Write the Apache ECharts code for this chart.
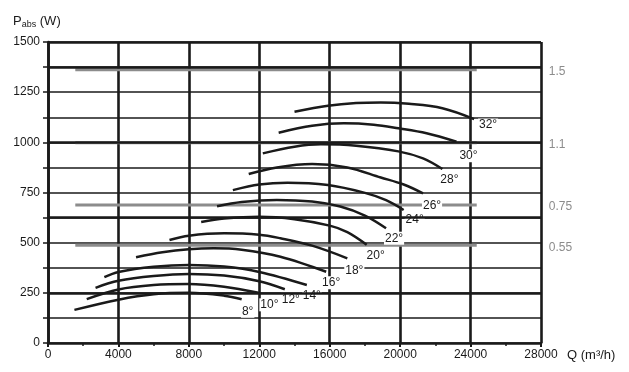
<!DOCTYPE html>
<html>
<head>
<meta charset="utf-8">
<script src="https://cdn.jsdelivr.net/npm/echarts@6/dist/echarts.min.js"></script>
<style>
html,body{margin:0;padding:0;background:#fff;}
#chart{width:629px;height:372px;}
</style>
</head>
<body>
<div id="chart"></div>
<script>
// ---- data ----
const angleLabels = ['8°','10°','12°','14°','16°','18°','20°','22°','24°','26°','28°','30°','32°'];
const c8  = [[1500,165],[4000,216],[6000,243],[8000,250],[10000,236],[11000,218]];
const c10 = [[2200,219],[4000,267],[6000,289],[8000,294],[10000,280],[11950,250]];
const c12 = [[2700,275],[4000,310],[6000,334],[8000,344],[10000,336],[12000,308],[13450,268]];
const c14 = [[3200,328],[4000,354],[6000,380],[8000,389],[10000,381],[12000,354],[14700,289]];
const c16 = [[5000,427],[6500,452],[8000,467],[9400,472],[11000,465],[13200,430],[15800,355]];
const c18 = [[6900,513],[8000,535],[10000,547],[12000,540],[13200,522],[15000,485],[17000,422]];
const c20 = [[8700,603],[10000,620],[12000,629],[14000,617],[16000,585],[17000,553],[18100,490]];
const c22 = [[9600,681],[11000,703],[13000,713],[15000,705],[16600,680],[18000,635],[19200,572]];
const c24 = [[10500,762],[12000,790],[13600,799],[15900,787],[18000,748],[19200,712],[20200,663]];
const c26 = [[11400,842],[13000,875],[15000,892],[17000,875],[18900,825],[20200,790],[21300,746]];
const c28 = [[12200,945],[14000,978],[15500,990],[17500,983],[19900,955],[21300,920],[22400,867]];
const c30 = [[13100,1048],[15000,1083],[16800,1095],[18500,1088],[19900,1070],[21500,1045],[23200,1003]];
const c32 = [[14000,1152],[15900,1182],[17500,1196],[18900,1199],[20500,1192],[22400,1170],[24200,1116]];
const curves = [c8,c10,c12,c14,c16,c18,c20,c22,c24,c26,c28,c30,c32];

const motorLabels = ['1.5','1.1','0.75','0.55'];
const motorP = [1362, 998, 688, 487];
const motorQ = [1550, 24350];

const xTicks = [0,4000,8000,12000,16000,20000,24000,28000];
const yTicks = [0,250,500,750,1000,1250,1500];
const thickGridP = [250, 625, 1000, 1375, 1500];

// ---- styles (label offsets in px relative to curve ends) ----
const labelOffsets = [[6,12],[11,12],[6,10],[5,11],[5,11],[7,12],[9,11],[8,10],[11,10],[9,12],[7,11],[12,14],[14,6]];

const FONT = "'Liberation Sans', Arial, sans-serif";
const chart = echarts.init(document.getElementById('chart'), null, {renderer:'canvas'});

const series = [];
series.push({
  type:'line', data:[], silent:true, z:1,
  markLine:{
    silent:true, symbol:'none', label:{show:false}, animation:false,
    lineStyle:{color:'#1a1a1a', width:2.6, type:'solid'},
    data: thickGridP.map(v => ({yAxis:v}))
  }
});
motorP.forEach((p,i) => {
  series.push({
    type:'line', z:2, silent:true, showSymbol:false, symbol:'none',
    data: motorQ.map(q => [q,p]),
    lineStyle:{color:'#8c8c8c', width:3},
    endLabel:{show:true, formatter: motorLabels[i], color:'#8c8c8c', fontSize:12,
      fontFamily:FONT, distance:5, offset:[67,2]}
  });
});
curves.forEach((c,i) => {
  series.push({
    type:'line', z:4, silent:true, showSymbol:false, symbol:'none',
    smooth:0.35,
    data:c,
    lineStyle:{color:'#1a1a1a', width:2.5},
    endLabel:{show:true, formatter: angleLabels[i], color:'#1a1a1a', fontSize:12,
      fontFamily:FONT, position:'right', distance:0, align:'center', verticalAlign:'middle',
      offset: labelOffsets[i], backgroundColor:'#fff', padding:[1,1,0,1]}
  });
});

chart.setOption({
  animation:false,
  backgroundColor:'#fff',
  textStyle:{fontFamily:FONT},
  title:{
    left:8, top:8,
    text:'{p|P}{s|abs}{w| (W)}',
    textStyle:{
      fontWeight:'normal',
      rich:{
        p:{fontSize:13, color:'#1a1a1a', fontFamily:FONT, fontWeight:'normal', lineHeight:16},
        s:{fontSize:9, color:'#1a1a1a', fontFamily:FONT, fontWeight:'normal', verticalAlign:'bottom', padding:[7,0,0,0], lineHeight:16},
        w:{fontSize:13, color:'#1a1a1a', fontFamily:FONT, fontWeight:'normal', lineHeight:16}
      }
    }
  },
  grid:{left:48, right:88, top:42, bottom:29, containLabel:false},
  xAxis:{
    type:'value', min:0, max:28000, interval:4000,
    name:'Q (m³/h)', nameLocation:'end', nameGap:26,
    nameTextStyle:{color:'#1a1a1a', fontSize:13, fontFamily:FONT, verticalAlign:'top', padding:[6,0,0,0]},
    axisLine:{show:true, lineStyle:{color:'#1a1a1a', width:2.6}},
    axisTick:{show:true, length:4, lineStyle:{color:'#1a1a1a', width:2}},
    minorTick:{show:true, splitNumber:2, length:3, lineStyle:{color:'#1a1a1a', width:1.5}},
    axisLabel:{color:'#1a1a1a', fontSize:12, margin:6, fontFamily:FONT,
      formatter: v => xTicks.indexOf(v) >= 0 ? String(v) : ''},
    splitLine:{show:true, lineStyle:{color:'#1a1a1a', width:2.6}}
  },
  yAxis:{
    type:'value', min:0, max:1500, interval:125,
    axisLine:{show:true, lineStyle:{color:'#1a1a1a', width:2.6}},
    axisTick:{show:true, length:5, lineStyle:{color:'#1a1a1a', width:1.5}},
    axisLabel:{color:'#1a1a1a', fontSize:12, margin:8, fontFamily:FONT,
      formatter: v => yTicks.indexOf(v) >= 0 ? String(v) : ''},
    splitLine:{show:true, lineStyle:{color:'#1a1a1a', width:1.6}}
  },
  series: series
});
</script>
</body>
</html>
